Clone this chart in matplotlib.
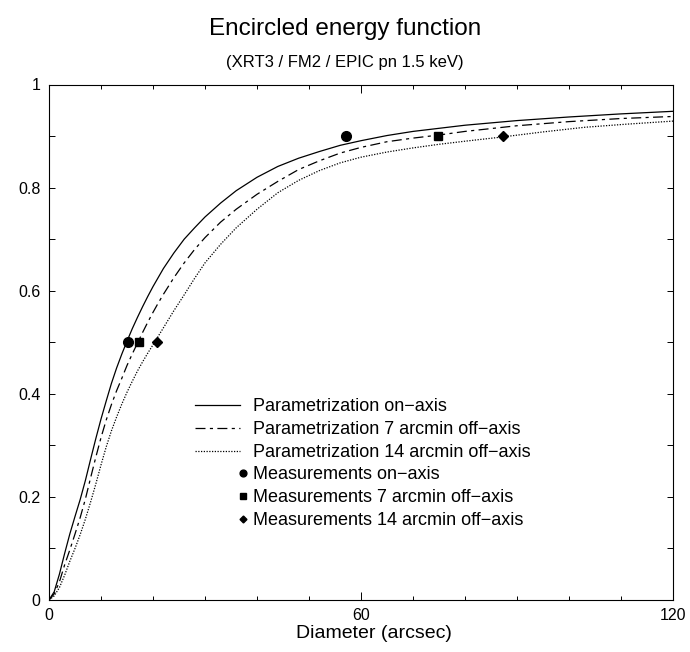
import matplotlib
matplotlib.use("Agg")
import matplotlib.pyplot as plt
from matplotlib.ticker import MultipleLocator

plt.rcParams['font.family'] = ['Liberation Sans', 'DejaVu Sans']

# Parametrization curves (diameter in arcsec, encircled energy fraction)
d_on = [0, 1, 2, 3, 4, 5, 6, 7, 8, 9, 10, 11, 12, 13, 14, 15, 16, 17, 18, 19, 20,
        22, 24, 26, 28, 30, 33, 36, 40, 44, 48, 52, 56, 60, 65, 70, 75, 80, 90, 100, 110, 120]
e_on = [0, 0.016, 0.05, 0.09, 0.128, 0.162, 0.195, 0.232, 0.273, 0.313, 0.351, 0.386, 0.42,
        0.45, 0.477, 0.502, 0.526, 0.548, 0.569, 0.589, 0.608,
        0.643, 0.673, 0.7, 0.722, 0.743, 0.77, 0.794, 0.82, 0.841, 0.857, 0.87, 0.882, 0.891,
        0.901, 0.909, 0.915, 0.921, 0.93, 0.937, 0.943, 0.948]

d_7 = [0, 1, 2, 3, 4, 5, 6, 7, 8, 9, 10, 11, 12, 13, 14, 15, 16, 17, 18, 19, 20, 21,
       22, 24, 26, 28, 30, 33, 36, 40, 44, 48, 52, 56, 60, 65, 70, 75, 80, 90, 100, 110, 120]
e_7 = [0, 0.012, 0.035, 0.068, 0.097, 0.128, 0.16, 0.196, 0.237, 0.277, 0.315, 0.349, 0.379,
       0.406, 0.43, 0.455, 0.477, 0.498, 0.519, 0.539, 0.558, 0.576,
       0.593, 0.625, 0.654, 0.68, 0.703, 0.733, 0.758, 0.787, 0.812, 0.835, 0.852, 0.867,
       0.878, 0.889, 0.896, 0.902, 0.909, 0.92, 0.928, 0.934, 0.938]

d_14 = [0, 1, 2, 3, 4, 5, 6, 7, 8, 9, 10, 11, 12, 13, 14, 15, 16, 17, 18, 19, 20,
        22, 24, 26, 28, 30, 33, 36, 40, 44, 48, 52, 56, 60, 65, 70, 75, 80, 87, 95, 103, 111, 120]
e_14 = [0, 0.008, 0.024, 0.048, 0.075, 0.1, 0.127, 0.157, 0.19, 0.225, 0.262, 0.297, 0.328,
        0.355, 0.38, 0.403, 0.424, 0.444, 0.462, 0.479, 0.495,
        0.528, 0.561, 0.592, 0.624, 0.654, 0.69, 0.722, 0.758, 0.79, 0.814, 0.833, 0.848,
        0.859, 0.869, 0.877, 0.884, 0.89, 0.898, 0.908, 0.917, 0.923, 0.929]

# Measurements
m_on_d = [15.1, 57.2]
m_on_e = [0.5, 0.9]
m_7_d = [17.4, 74.9]
m_7_e = [0.5, 0.9]
m_14_d = [20.7, 87.4]
m_14_e = [0.5, 0.9]

x_ticks = [0, 60, 120]
y_ticks = [0, 0.2, 0.4, 0.6, 0.8, 1]
y_labels = ['0', '0.2', '0.4', '0.6', '0.8', '1']

fig = plt.figure(figsize=(6.9, 6.52), dpi=100)
ax = fig.add_axes([49 / 690, 52 / 652, 624 / 690, 515.5 / 652])

lw = 0.9
l1, = ax.plot(d_on, e_on, color='black', lw=lw, ls='-')
l2, = ax.plot(d_7, e_7, color='black', lw=lw, dashes=(8, 3.5, 2.5, 3.5))
l3, = ax.plot(d_14, e_14, color='black', lw=lw, dashes=(1, 1.2))

p1, = ax.plot(m_on_d, m_on_e, ls='none', marker='o', ms=7, color='black')
p2, = ax.plot(m_7_d, m_7_e, ls='none', marker='s', ms=6, color='black')
p3, = ax.plot(m_14_d, m_14_e, ls='none', marker='D', ms=5, color='black')

ax.set_xlim(0, 120)
ax.set_ylim(0, 1)
ax.set_xticks(x_ticks)
ax.set_xticklabels([str(v) for v in x_ticks])
ax.xaxis.set_minor_locator(MultipleLocator(10))
ax.set_yticks(y_ticks)
ax.set_yticklabels(y_labels)
ax.yaxis.set_minor_locator(MultipleLocator(0.1))

for s in ax.spines.values():
    s.set_linewidth(0.8)
ax.tick_params(which='both', direction='in', top=True, right=True, width=0.7,
               labelsize=11.5, colors='black')
ax.tick_params(axis='x', which='major', length=5.5, pad=6)
ax.tick_params(axis='x', which='minor', length=2.8)
ax.tick_params(axis='y', which='both', length=4.5, pad=6)

ax.set_xlabel('Diameter (arcsec)', fontsize=14)
ax.xaxis.set_label_coords((374 - 49) / 624, -33 / 515.5, transform=ax.transAxes)
ax.xaxis.label.set_va('center')

fig.text(0.5, 1 - 29 / 652, 'Encircled energy function', ha='center', va='center', fontsize=17.5)
fig.text(0.5, 1 - 62 / 652, '(XRT3 / FM2 / EPIC pn 1.5 keV)', ha='center', va='center', fontsize=12)

fs = 13
leg1 = ax.legend([l1, l2, l3],
                 ['Parametrization on\u2212axis', 'Parametrization 7 arcmin off\u2212axis',
                  'Parametrization 14 arcmin off\u2212axis'],
                 loc='upper left', bbox_to_anchor=((195 - 49) / 624, (600 - 398) / 515.5),
                 frameon=False, borderpad=0, borderaxespad=0, handlelength=2.5,
                 handletextpad=0.72, labelspacing=0.33, fontsize=fs)
ax.add_artist(leg1)
leg2 = ax.legend([p1, p2, p3],
                 ['Measurements on\u2212axis', 'Measurements 7 arcmin off\u2212axis',
                  'Measurements 14 arcmin off\u2212axis'],
                 loc='upper left', bbox_to_anchor=((238.5 - 49) / 624, (600 - 466) / 515.5),
                 frameon=False, borderpad=0, borderaxespad=0, handlelength=0.5,
                 handletextpad=0.3, labelspacing=0.33, fontsize=fs, numpoints=1,
                 markerscale=0.7)

fig.savefig('out.png', dpi=100)
